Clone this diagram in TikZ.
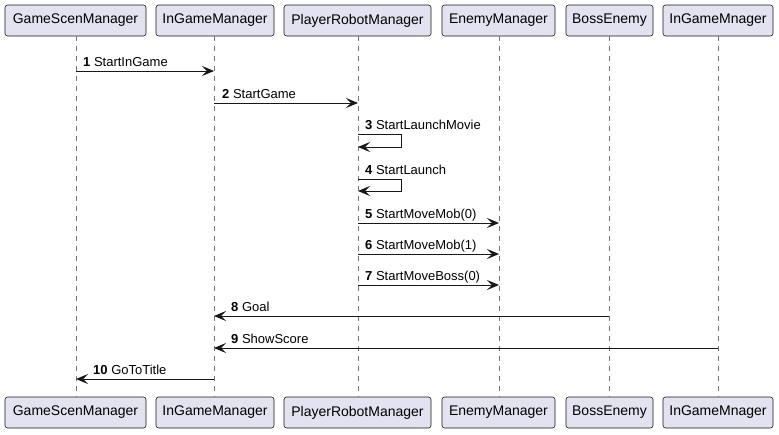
\documentclass[tikz,border=0pt]{standalone}
\usepackage{fontspec}
\setmainfont{Liberation Sans}
\usetikzlibrary{arrows.meta}
\definecolor{boxfill}{HTML}{E2E2F0}
\definecolor{ink}{HTML}{181818}
\begin{document}
\begin{tikzpicture}[x=1pt,y=-1pt,
  part/.style={draw=ink, fill=boxfill, rounded corners=2.5pt, line width=0.6pt,
    minimum height=31pt, inner xsep=0pt, font=\fontsize{14}{16}\selectfont, anchor=center},
  life/.style={draw=ink!60, dash pattern=on 5pt off 5pt, line width=0.6pt},
  msg/.style={draw=ink, line width=0.9pt, -{Stealth[length=12pt,width=10pt,inset=5pt]}},
  lbl/.style={anchor=base west, inner sep=0pt, font=\fontsize{13}{15}\selectfont}]
\useasboundingbox (0,0) rectangle (779,434);
% top participants
\node[part, minimum width=141pt] (t1) at (75.5,20.5) {GameScenManager};
\node[part, minimum width=118pt] (t2) at (215,20.5) {InGameManager};
\node[part, minimum width=147pt] (t3) at (357.5,20.5) {PlayerRobotManager};
\node[part, minimum width=113pt] (t4) at (498.5,20.5) {EnemyManager};
\node[part, minimum width=87pt]  (t5) at (609.5,20.5) {BossEnemy};
\node[part, minimum width=110pt] (t6) at (718,20.5) {InGameMnager};
% bottom participants
\node[part, minimum width=141pt] (b1) at (75.5,412.5) {GameScenManager};
\node[part, minimum width=118pt] (b2) at (215,412.5) {InGameManager};
\node[part, minimum width=147pt] (b3) at (357.5,412.5) {PlayerRobotManager};
\node[part, minimum width=113pt] (b4) at (498.5,412.5) {EnemyManager};
\node[part, minimum width=87pt]  (b5) at (609.5,412.5) {BossEnemy};
\node[part, minimum width=110pt] (b6) at (718,412.5) {InGameMnager};
% lifelines
\draw[life] (76,36) coordinate (l1a) -- (76,397) coordinate (l1b);
\draw[life] (214,36) coordinate (l2a) -- (214,397) coordinate (l2b);
\draw[life] (358,36) coordinate (l3a) -- (358,397) coordinate (l3b);
\draw[life] (499,36) coordinate (l4a) -- (499,397) coordinate (l4b);
\draw[life] (609,36) coordinate (l5a) -- (609,397) coordinate (l5b);
\draw[life] (718,36) coordinate (l6a) -- (718,397) coordinate (l6b);
% message anchor points
\coordinate (m1s) at (76,71);   \coordinate (m1e) at (214,71);
\coordinate (m2s) at (214,103); \coordinate (m2e) at (358,103);
\coordinate (m3s) at (358,134); \coordinate (m3e) at (358,147);
\coordinate (m4s) at (358,179); \coordinate (m4e) at (358,191);
\coordinate (m5s) at (358,223); \coordinate (m5e) at (499,223);
\coordinate (m6s) at (358,254); \coordinate (m6e) at (499,254);
\coordinate (m7s) at (358,285); \coordinate (m7e) at (499,285);
\coordinate (m8s) at (609,316); \coordinate (m8e) at (214,316);
\coordinate (m9s) at (718,348); \coordinate (m9e) at (214,348);
\coordinate (m10s) at (214,379); \coordinate (m10e) at (76,379);
% messages
\draw[msg] (m1s) -- (m1e);
\node[lbl] (n1) at (83,66) {\textbf{1} StartInGame};
\draw[msg] (m2s) -- (m2e);
\node[lbl] (n2) at (222,98) {\textbf{2} StartGame};
\draw[msg] (m3s) -- ++(43,0) |- (m3e);
\node[lbl] (n3) at (365,129) {\textbf{3} StartLaunchMovie};
\draw[msg] (m4s) -- ++(43,0) |- (m4e);
\node[lbl] (n4) at (365,174) {\textbf{4} StartLaunch};
\draw[msg] (m5s) -- (m5e);
\node[lbl] (n5) at (365,218) {\textbf{5} StartMoveMob(0)};
\draw[msg] (m6s) -- (m6e);
\node[lbl] (n6) at (365,249) {\textbf{6} StartMoveMob(1)};
\draw[msg] (m7s) -- (m7e);
\node[lbl] (n7) at (365,280) {\textbf{7} StartMoveBoss(0)};
\draw[msg] (m8s) -- (m8e);
\node[lbl] (n8) at (231,311) {\textbf{8} Goal};
\draw[msg] (m9s) -- (m9e);
\node[lbl] (n9) at (231,343) {\textbf{9} ShowScore};
\draw[msg] (m10s) -- (m10e);
\node[lbl] (n10) at (93,374) {\textbf{10} GoToTitle};
\end{tikzpicture}
\end{document}
